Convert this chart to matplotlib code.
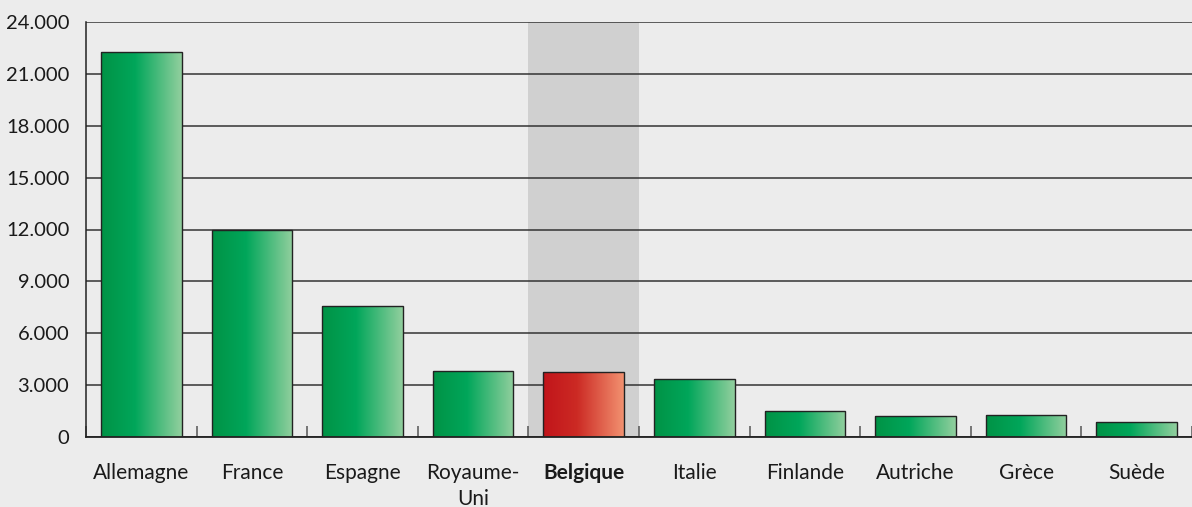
import matplotlib
matplotlib.use("Agg")
import matplotlib.pyplot as plt
import numpy as np
from matplotlib.colors import LinearSegmentedColormap
from matplotlib.ticker import FuncFormatter, MultipleLocator

categories = ["Allemagne", "France", "Espagne", "Royaume-\nUni", "Belgique",
              "Italie", "Finlande", "Autriche", "Grèce", "Suède"]
values = [22270, 11980, 7580, 3820, 3760, 3360, 1500, 1210, 1270, 870]
highlight = "Belgique"

plt.rcParams['font.family'] = ['Lato', 'DejaVu Sans']
BG = "#ececec"

fig = plt.figure(figsize=(11.92, 5.07), dpi=100, facecolor=BG)
ax = fig.add_axes([86/1192, 1-437/507, (1192-86)/1192, (437-22)/507])
ax.set_facecolor(BG)

x = np.arange(len(categories))
hi = categories.index(highlight)
ax.axvspan(hi - 0.5, hi + 0.5, color="#d0d0d0", zorder=0, lw=0)

ax.set_xlim(-0.5, len(categories) - 0.5)
ax.set_ylim(0, 24000)
ax.yaxis.set_major_locator(MultipleLocator(3000))
ax.yaxis.set_major_formatter(FuncFormatter(lambda v, p: f"{int(v):,}".replace(",", ".")))
ax.grid(axis="y", color="#333333", lw=1.1, zorder=1)
ax.set_axisbelow(True)

bars = ax.bar(x, values, width=0.73, facecolor="none", edgecolor="#222222", lw=1.0, zorder=3)

green = LinearSegmentedColormap.from_list("g", [(0, "#008f45"), (0.03, "#009447"),
                                                (0.42, "#00a65a"), (1, "#92cf9e")])
red = LinearSegmentedColormap.from_list("r", [(0, "#b81218"), (0.03, "#c2161b"),
                                              (0.42, "#cc2a24"), (1, "#f29170")])
grad = np.linspace(0, 1, 256).reshape(1, -1)
for i, b in enumerate(bars):
    cmap = red if categories[i] == highlight else green
    x0, w, h = b.get_x(), b.get_width(), b.get_height()
    im = ax.imshow(grad, cmap=cmap, aspect="auto", extent=(x0, x0 + w, 0, h),
                   zorder=2, interpolation="bilinear")
    im.set_clip_path(b)
ax.set_xlim(-0.5, len(categories) - 0.5)
ax.set_ylim(0, 24000)

for s in ["top", "right"]:
    ax.spines[s].set_visible(False)
ax.spines["left"].set_color("#222222")
ax.spines["bottom"].set_color("#222222")
ax.spines["left"].set_linewidth(1.1)
ax.spines["bottom"].set_linewidth(1.3)
ax.spines["bottom"].set_zorder(4)

ax.set_xticks(x)
ax.set_xticklabels(categories, fontsize=15, color="#1a1a1a", linespacing=1.35)
ax.tick_params(axis="x", length=0, pad=19)
ax.set_xticks(np.arange(len(categories) + 1) - 0.5, minor=True)
ax.tick_params(axis="x", which="minor", direction="in", length=8, width=1.1, color="#555555")
ax.tick_params(axis="y", length=0, pad=12, labelsize=14.5, labelcolor="#1a1a1a")
for lbl in ax.get_xticklabels():
    if lbl.get_text() == highlight:
        lbl.set_fontweight("bold")
    lbl.set_verticalalignment("top")

fig.savefig("out.png", dpi=100, facecolor=BG)
